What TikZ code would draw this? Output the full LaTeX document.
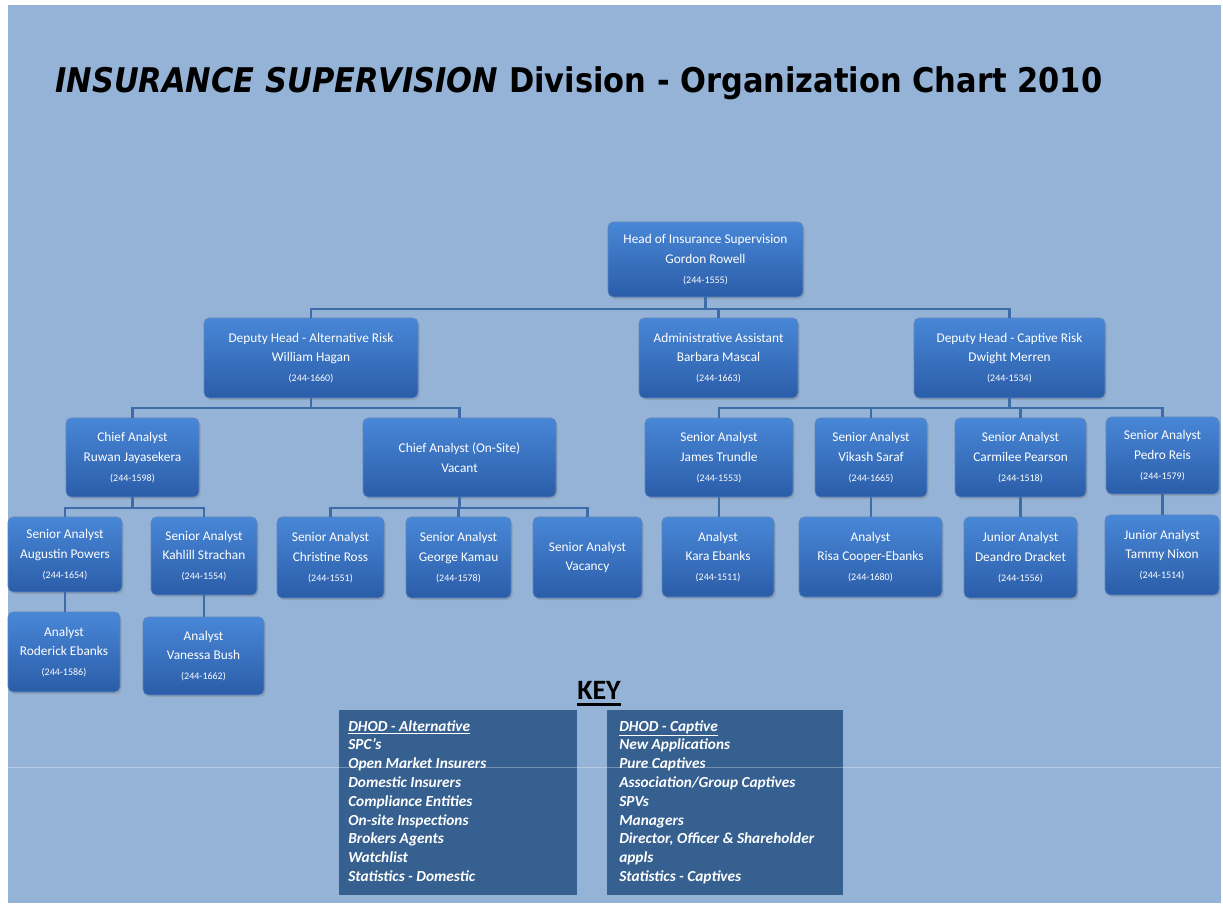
\documentclass[tikz,border=0pt]{standalone}
\usepackage{fontspec}
\usepackage{graphicx}
\usepackage{xcolor}
\usepackage{tikz}
\usetikzlibrary{positioning,shadows,calc}

\setmainfont{Carlito}
\newfontfamily\titlefont{DejaVu Sans}

\definecolor{pagebg}{HTML}{95B3D7}
\definecolor{boxtop}{HTML}{4887D7}
\definecolor{boxbot}{HTML}{2B5DA8}
\definecolor{boxedge}{HTML}{5B84BD}
\definecolor{linkblue}{HTML}{3E6CA8}
\definecolor{keyblue}{HTML}{36608F}

% phone extension, set smaller
\newcommand{\ext}[1]{{\fontsize{7.5}{9}\selectfont #1}}

\tikzset{
  unit/.style={draw=boxedge, line width=0.5pt, rounded corners=4pt,
    top color=boxtop, bottom color=boxbot, text=white, align=center,
    font=\fontsize{10}{14.7}\selectfont, inner sep=1pt,
    drop shadow={shadow xshift=1.2pt, shadow yshift=-1.5pt, opacity=0.35}},
  link/.style={draw=linkblue, line width=1.6pt},
  keybox/.style={fill=keyblue, draw=none, inner sep=0pt},
  keytext/.style={text=white, align=left, anchor=north west, inner sep=0pt,
    font=\fontsize{11.5}{14.1}\selectfont\bfseries\itshape},
}

\begin{document}
\begin{tikzpicture}[x=0.75pt, y=-0.75pt]
  \useasboundingbox (0,0) rectangle (1223,903);
  \fill[white] (0,0) rectangle (1223,903);
  \fill[pagebg] (8,5) rectangle (1221,903);

  % heading
  \node[anchor=base west, inner sep=0pt] (title) at (55,92)
    {\scalebox{0.897}[1]{\titlefont\fontsize{25.5}{30}\selectfont\bfseries
      \itshape INSURANCE SUPERVISION\upshape{} Division - Organization Chart 2010}};

  % top
  \node[unit, minimum width=146.25pt, minimum height=56.25pt] (head) at (705.5,259.5)
    {Head of Insurance Supervision\\Gordon Rowell\\\ext{(244-1555)}};

  % deputies and admin
  \node[unit, minimum width=160.5pt, minimum height=60pt] (dalt) at (311,358)
    {Deputy Head - Alternative Risk\\William Hagan\\\ext{(244-1660)}};
  \node[unit, minimum width=119.25pt, minimum height=60pt] (admin) at (718.5,358)
    {Administrative Assistant\\Barbara Mascal\\\ext{(244-1663)}};
  \node[unit, minimum width=143.25pt, minimum height=60pt] (dcap) at (1009.5,358)
    {Deputy Head - Captive Risk\\Dwight Merren\\\ext{(244-1534)}};

  % alternative risk side
  \node[unit, minimum width=99.75pt, minimum height=59.25pt] (chief) at (132.5,457.5)
    {Chief Analyst\\Ruwan Jayasekera\\\ext{(244-1598)}};
  \node[unit, minimum width=144.75pt, minimum height=59.25pt] (onsite) at (459.5,457.5)
    {Chief Analyst (On-Site)\\Vacant};

  \node[unit, minimum width=85.5pt, minimum height=56.25pt] (powers) at (65,554.5)
    {Senior Analyst\\Augustin Powers\\\ext{(244-1654)}};
  \node[unit, minimum width=79.5pt, minimum height=58.5pt] (strachan) at (204,556)
    {Senior Analyst\\Kahlill Strachan\\\ext{(244-1554)}};
  \node[unit, minimum width=84pt, minimum height=60pt] (rebanks) at (64,652)
    {Analyst\\Roderick Ebanks\\\ext{(244-1586)}};
  \node[unit, minimum width=90.75pt, minimum height=58.5pt] (bush) at (203.5,656)
    {Analyst\\Vanessa Bush\\\ext{(244-1662)}};

  \node[unit, minimum width=80.25pt, minimum height=60.75pt] (ross) at (330.5,557.5)
    {Senior Analyst\\Christine Ross\\\ext{(244-1551)}};
  \node[unit, minimum width=78.75pt, minimum height=60.75pt] (kamau) at (458.5,557.5)
    {Senior Analyst\\George Kamau\\\ext{(244-1578)}};
  \node[unit, minimum width=81.75pt, minimum height=60.75pt] (vacancy) at (587.5,557.5)
    {Senior Analyst\\Vacancy};

  % captive risk side
  \node[unit, minimum width=111pt, minimum height=59.25pt] (trundle) at (719,457.5)
    {Senior Analyst\\James Trundle\\\ext{(244-1553)}};
  \node[unit, minimum width=84pt, minimum height=59.25pt] (saraf) at (871,457.5)
    {Senior Analyst\\Vikash Saraf\\\ext{(244-1665)}};
  \node[unit, minimum width=98.25pt, minimum height=59.25pt] (pearson) at (1020.5,457.5)
    {Senior Analyst\\Carmilee Pearson\\\ext{(244-1518)}};
  \node[unit, minimum width=84.75pt, minimum height=57.75pt] (reis) at (1162.5,455.5)
    {Senior Analyst\\Pedro Reis\\\ext{(244-1579)}};

  \node[unit, minimum width=84pt, minimum height=60pt] (kebanks) at (718,557)
    {Analyst\\Kara Ebanks\\\ext{(244-1511)}};
  \node[unit, minimum width=107.25pt, minimum height=60pt] (cooper) at (870.5,557)
    {Analyst\\Risa Cooper-Ebanks\\\ext{(244-1680)}};
  \node[unit, minimum width=84.75pt, minimum height=60.75pt] (dracket) at (1020.5,557.5)
    {Junior Analyst\\Deandro Dracket\\\ext{(244-1556)}};
  \node[unit, minimum width=85.5pt, minimum height=60pt] (nixon) at (1162,555)
    {Junior Analyst\\Tammy Nixon\\\ext{(244-1514)}};

  % reporting lines
  \draw[link] (head.south) -- ++(0,12) -| (dalt.north);
  \draw[link] (head.south) -- ++(0,12) -| (admin.north);
  \draw[link] (head.south) -- ++(0,12) -| (dcap.north);

  \draw[link] (dalt.south) -- ++(0,10) -| (chief.north);
  \draw[link] (dalt.south) -- ++(0,10) -| (onsite.north);
  \draw[link] (chief.south) -- ++(0,11) -| (powers.north);
  \draw[link] (chief.south) -- ++(0,11) -| (strachan.north);
  \draw[link] (onsite.south) -- ++(0,11) -| (ross.north);
  \draw[link] (onsite.south) -- ++(0,11) -| (kamau.north);
  \draw[link] (onsite.south) -- ++(0,11) -| (vacancy.north);
  \draw[link] (powers.south) -- (powers.south |- rebanks.north);
  \draw[link] (strachan.south) -- (strachan.south |- bush.north);

  \draw[link] (dcap.south) -- ++(0,10) -| (trundle.north);
  \draw[link] (dcap.south) -- ++(0,10) -| (saraf.north);
  \draw[link] (dcap.south) -- ++(0,10) -| (pearson.north);
  \draw[link] (dcap.south) -- ++(0,10) -| (reis.north);
  \draw[link] (trundle.south) -- (trundle.south |- kebanks.north);
  \draw[link] (saraf.south) -- (saraf.south |- cooper.north);
  \draw[link] (pearson.south) -- (pearson.south |- dracket.north);
  \draw[link] (reis.south) -- (reis.south |- nixon.north);

  % key
  \node[inner sep=0pt, font=\fontsize{21}{24}\selectfont\bfseries] (key) at (599,690) {KEY};
  \draw[line width=2.2pt] ($(key.south west)+(0,5)$) -- ($(key.south east)+(0,5)$);

  \node[keybox, minimum width=178.5pt, minimum height=138.75pt] (keyalt) at (458,802.5) {};
  \node[keybox, minimum width=177pt, minimum height=138.75pt] (keycap) at (725,802.5) {};
  \node[keytext] (altlist) at (348,720)
    {\underline{DHOD - Alternative}\\SPC's\\Open Market Insurers\\Domestic Insurers\\
     Compliance Entities\\On-site Inspections\\Brokers Agents\\Watchlist\\Statistics - Domestic};
  \node[keytext] (caplist) at (619,720)
    {\underline{DHOD - Captive}\\New Applications\\Pure Captives\\Association/Group Captives\\
     SPVs\\Managers\\Director, Officer \& Shareholder\\appls\\Statistics - Captives};

  % faint page rule
  \draw[white, opacity=0.3, line width=0.6pt] (8,767) -- (1221,767);
\end{tikzpicture}
\end{document}
